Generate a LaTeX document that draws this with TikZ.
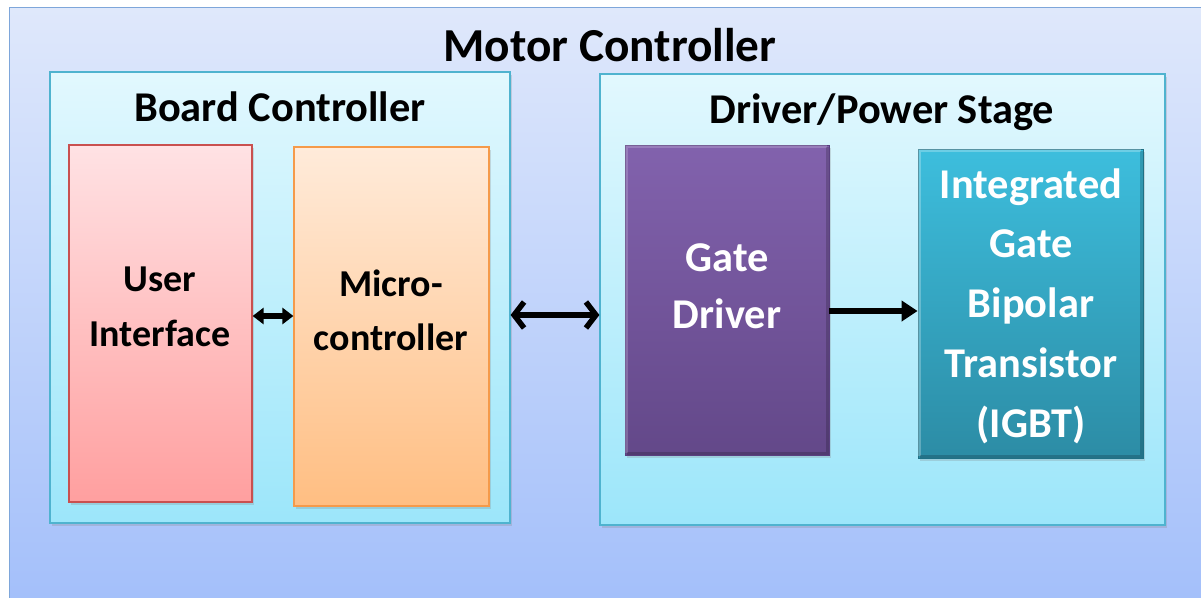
\documentclass[tikz,border=0pt]{standalone}
\usepackage{fontspec}
\setmainfont{Carlito}
\usetikzlibrary{arrows.meta,shadows}
\definecolor{outerTop}{HTML}{DFE8FB}
\definecolor{outerBot}{HTML}{A3BFFA}
\definecolor{outerLine}{HTML}{7EA6DA}
\definecolor{grpTop}{HTML}{E2F8FE}
\definecolor{grpBot}{HTML}{9CE6FA}
\definecolor{grpLine}{HTML}{4FB3CF}
\definecolor{uiTop}{HTML}{FFE2E4}
\definecolor{uiBot}{HTML}{FF9F9F}
\definecolor{uiLine}{HTML}{C9504F}
\definecolor{mcTop}{HTML}{FFEBDA}
\definecolor{mcBot}{HTML}{FFBE82}
\definecolor{mcLine}{HTML}{F59A4A}
\definecolor{gdTop}{HTML}{8262AD}
\definecolor{gdBot}{HTML}{634889}
\definecolor{gdLine}{HTML}{5A3F80}
\definecolor{igTop}{HTML}{3DBEDD}
\definecolor{igBot}{HTML}{2C8CA5}
\definecolor{igLine}{HTML}{1F7085}
\begin{document}
\begin{tikzpicture}[x=1pt,y=-1pt,
  boxbase/.style={rectangle,inner sep=0pt,drop shadow={shadow xshift=2pt,shadow yshift=-3pt,opacity=0.25}},
  grpbox/.style={boxbase,draw=grpLine,line width=1.2pt,top color=grpTop,bottom color=grpBot},
  titletxt/.style={anchor=base,font=\fontsize{42.4}{50}\selectfont\bfseries},
  boxtxt/.style={align=center,font=\fontsize{38}{54.5}\selectfont\bfseries},
  wboxtxt/.style={align=center,text=white,font=\fontsize{42.4}{57}\selectfont\bfseries},
  arr/.style={line width=5.5pt}
]
\useasboundingbox (0,0) rectangle (1201,597);
\fill[white] (0,0) rectangle (1201,597);
% outer box
\node[rectangle,inner sep=0pt,draw=outerLine,line width=1pt,top color=outerTop,bottom color=outerBot,
  anchor=north west,minimum width=1200pt,minimum height=600pt] (outer) at (9,7) {};
\node[titletxt,font=\fontsize{47.3}{56}\selectfont\bfseries] (ttl) at (610,61) {Motor Controller};

% group boxes
\node[grpbox,minimum width=460pt,minimum height=451pt] (board) at (280,297.5) {};
\node[titletxt] (boardt) at (280,121) {Board Controller};
\node[grpbox,minimum width=565pt,minimum height=451pt] (drv) at (882.5,299.5) {};
\node[titletxt] (drvt) at (882,123) {Driver/Power Stage};

% inner blocks
\node[boxbase,draw=uiLine,line width=1.2pt,top color=uiTop,bottom color=uiBot,
  minimum width=183pt,minimum height=357pt] (ui) at (160.5,323.5) {};
\node[boxtxt] (uit) at (160,307) {User\\Interface};
\node[boxbase,draw=mcLine,line width=1.2pt,top color=mcTop,bottom color=mcBot,
  minimum width=195pt,minimum height=359pt] (mc) at (391.5,326.5) {};
\node[boxtxt] (mct) at (391,310.5) {Micro-\\controller};
% gate driver with bevelled look
\node[boxbase,draw=gdLine,line width=0.8pt,top color=gdTop,bottom color=gdBot,
  minimum width=204pt,minimum height=310pt] (gd) at (727,300) {};
\draw[white,opacity=0.18,line width=3pt] ([xshift=2pt,yshift=2pt]gd.south west) -- ([xshift=2pt,yshift=-2pt]gd.north west) -- ([xshift=-2pt,yshift=-2pt]gd.north east);
\draw[black,opacity=0.18,line width=3pt] ([xshift=-2pt,yshift=-2pt]gd.north east) -- ([xshift=-2pt,yshift=2pt]gd.south east) -- ([xshift=2pt,yshift=2pt]gd.south west);
\node[wboxtxt] (gdt) at (727,286) {Gate\\Driver};
\node[boxbase,draw=igLine,line width=0.8pt,top color=igTop,bottom color=igBot,
  minimum width=225pt,minimum height=309pt] (ig) at (1030.5,303.5) {};
\draw[white,opacity=0.25,line width=3pt] ([xshift=2pt,yshift=2pt]ig.south west) -- ([xshift=2pt,yshift=-2pt]ig.north west) -- ([xshift=-2pt,yshift=-2pt]ig.north east);
\draw[black,opacity=0.18,line width=3pt] ([xshift=-2pt,yshift=-2pt]ig.north east) -- ([xshift=-2pt,yshift=2pt]ig.south east) -- ([xshift=2pt,yshift=2pt]ig.south west);
\node[wboxtxt,font=\fontsize{42.4}{59.7}\selectfont\bfseries] (igt) at (1031,306) {Integrated\\Gate\\Bipolar\\Transistor\\(IGBT)};

% connectors
\draw[arr,{Triangle[length=11pt,width=16pt]}-{Triangle[length=11pt,width=16pt]}]
  (ui.east |- 0,316) -- (mc.west |- 0,316);
\draw[arr,{Straight Barb[length=10pt,width=26pt]}-{Straight Barb[length=10pt,width=26pt]}]
  (board.east |- 0,315) -- (drv.west |- 0,315);
\draw[arr,-{Triangle[length=16pt,width=20pt]}]
  (gd.east |- 0,311) -- (ig.west |- 0,311);
\end{tikzpicture}
\end{document}
